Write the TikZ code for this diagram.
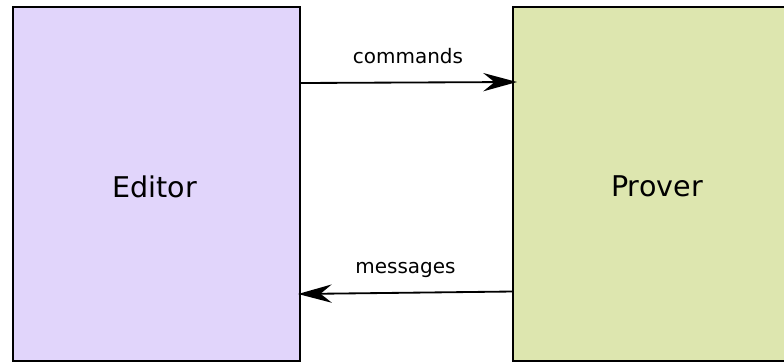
\documentclass[tikz,border=0pt]{standalone}
\usepackage{fontspec}
\setmainfont{DejaVu Sans}
\usetikzlibrary{arrows.meta}
\definecolor{editorfill}{HTML}{E1D5FB}
\definecolor{proverfill}{HTML}{DDE6AF}
\tikzset{
  part/.style={draw=black, line width=1.3pt, inner sep=0pt},
  partlabel/.style={font=\fontsize{20.3}{24}\selectfont},
  flow/.style={-{Stealth[length=24pt,width=13pt,inset=8pt]}, line width=1.3pt},
  flowlabel/.style={font=\fontsize{14.2}{17}\selectfont, anchor=base, inner sep=0pt}
}
\begin{document}
\begin{tikzpicture}[x=0.025cm,y=-0.025cm]
    \useasboundingbox (0,0) rectangle (784,363);
    % the two processes
    \draw [part, fill=editorfill] (13,7) rectangle (300,361);
    \draw [part, fill=proverfill] (513,7) rectangle (820,361);
    \node [partlabel] (editor) at (154.5,186.5) {Editor};
    \node [partlabel] (prover) at (657,186.5) {Prover};
    % arrow ends
    \coordinate (cmdfrom) at (301,83);
    \coordinate (cmdto) at (517,82);
    \coordinate (msgfrom) at (513,291.5);
    \coordinate (msgto) at (298,294);
    \draw [flow] (cmdfrom) -- (cmdto);
    \draw [flow] (msgfrom) -- (msgto);
    % lecterns
    \node [flowlabel] (cmdlabel) at (408,63) {commands};
    \node [flowlabel] (msglabel) at (405.5,273.5) {messages};
\end{tikzpicture}
\end{document}
